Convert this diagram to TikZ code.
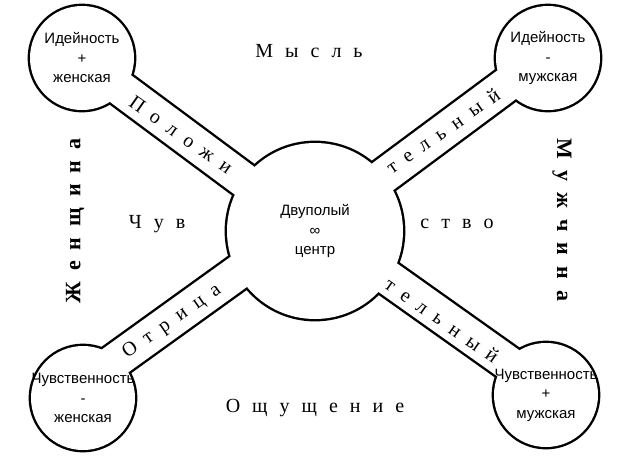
\documentclass[tikz,border=0pt]{standalone}
\usepackage{fontspec}
\setmainfont{Liberation Serif}
\setsansfont{Liberation Sans}
\pgfdeclarelayer{contorni}
\pgfdeclarelayer{barre}
\pgfsetlayers{contorni,barre,main}
\newcommand{\spaziatura}[1]{\spaceskip=#1em\relax}
\begin{document}
\begin{tikzpicture}[
        x=1pt, y=-1pt,
        every node/.style={inner sep=0pt},
        small_circle/.style={circle, fill=white, minimum size=104},
        big_circle/.style={circle, fill=white, minimum size=176},
        circle_text/.style={align=center, font=\sffamily\fontsize{15}{19.5}\selectfont},
        spaced_word/.style={font=\fontsize{20}{24}\selectfont, execute at begin node={\spaziatura{0.6}}},
        bar_word/.style={font=\fontsize{20}{24}\selectfont, execute at begin node={\spaziatura{0.52}}},
        side_word/.style={font=\bfseries\fontsize{22}{26}\selectfont, execute at begin node={\spaziatura{0.5}}},
        outline/.style={line width=4.8},
        bar_out/.style={line width=38.8},
        bar_in/.style={white, line width=34}
        ]
    \useasboundingbox (0,0) rectangle (631,472);
    \node[big_circle, label={[circle_text]center:Двуполый\\∞\\центр}] (dual) at (315,231) {};
    \node[small_circle, label={[circle_text]center:Идейность\\+\\женская}] (idea_f) at (82,58) {};
    \node[small_circle, label={[circle_text]center:Идейность\\-\\мужская}] (idea_m) at (548,58) {};
    \node[small_circle, label={[circle_text]center:Чувственность\\-\\женская}] (feel_f) at (83,398) {};
    \node[small_circle, label={[circle_text]center:Чувственность\\+\\мужская}] (feel_m) at (546,395) {};
    \begin{pgfonlayer}{contorni}
        \foreach \n in {idea_f, idea_m, feel_f, feel_m}
            \draw[outline] (\n.center) circle[radius=52pt];
        \draw[outline] (dual.center) circle[radius=88pt];
        \foreach \n/\dy in {idea_f/2, idea_m/-4, feel_f/-14, feel_m/-5}
            \draw[bar_out] ([shift={(0,\dy)}]\n.center) -- ([shift={(0,\dy)}]dual.center);
    \end{pgfonlayer}
    \begin{pgfonlayer}{barre}
        \foreach \n/\dy in {idea_f/2, idea_m/-4, feel_f/-14, feel_m/-5}
            \draw[bar_in] ([shift={(0,\dy)}]\n.center) -- ([shift={(0,\dy)}]dual.center);
    \end{pgfonlayer}
    \node[spaced_word, anchor=base] (mysl) at (309,57) {М ы с л ь};
    \node[spaced_word, anchor=base] (chuv) at (157,228) {Ч у в};
    \node[spaced_word, anchor=base] (stvo) at (457,228) {с т в о};
    \node[spaced_word, anchor=base] (oshch) at (315,412) {О щ у щ е н и е};
    \node[side_word, rotate=90] (zhen) at (75,221) {Ж е н щ и н а};
    \node[side_word, rotate=-90] (muzh) at (562,220) {М у ж ч и н а};
    \node[bar_word, rotate=-35] (polozh) at (181,135) {П о л о ж и};
    \node[bar_word, rotate=35] (tel_top) at (443,131) {т е л ь н ы й};
    \node[bar_word, rotate=35] (otric) at (172,322) {О т р и ц а};
    \node[bar_word, rotate=-35] (tel_bot) at (442,320) {т е л ь н ы й};
\end{tikzpicture}
\end{document}
